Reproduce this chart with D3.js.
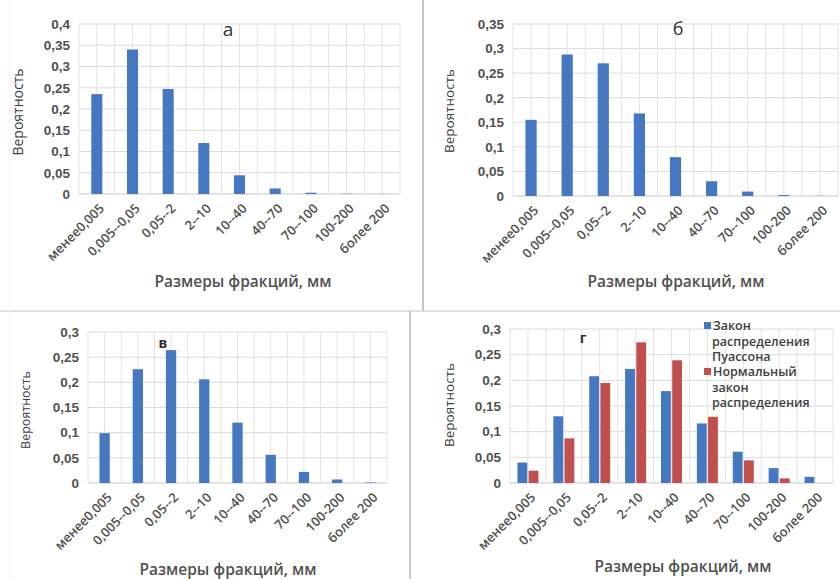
<!DOCTYPE html>
<html>
<head>
<meta charset="utf-8">
<title>Вероятность фракций</title>
<script src="https://d3js.org/d3.v7.min.js"></script>
<style>
    body { margin: 0; background: #fff; }
    svg { font-family: "Open Sans", "Noto Sans", sans-serif; }
    .tick text { fill: #505050; }
</style>
</head>
<body>
<div id="chart"></div>
<script>
// categories (size fractions, mm)
const categories = ["менее0,005", "0,005--0,05", "0,05--2", "2--10", "10--40", "40--70", "70--100", "100-200", "более 200"];

// panel а
const valuesA = [0.235, 0.340, 0.247, 0.120, 0.044, 0.013, 0.003, 0.0006, 0.0003];
const ticksA = [0, 0.05, 0.1, 0.15, 0.2, 0.25, 0.3, 0.35, 0.4];
// panel б
const valuesB = [0.155, 0.288, 0.270, 0.168, 0.079, 0.030, 0.009, 0.002, 0.0004];
const ticksB = [0, 0.05, 0.1, 0.15, 0.2, 0.25, 0.3, 0.35];
// panel в
const valuesV = [0.099, 0.226, 0.264, 0.206, 0.120, 0.056, 0.022, 0.007, 0.001];
const ticksV = [0, 0.05, 0.1, 0.15, 0.2, 0.25, 0.3];
// panel г
const poissonG = [0.040, 0.130, 0.208, 0.222, 0.179, 0.116, 0.061, 0.029, 0.012];
const normalG = [0.024, 0.087, 0.195, 0.274, 0.239, 0.129, 0.044, 0.009, 0];
const ticksG = [0, 0.05, 0.1, 0.15, 0.2, 0.25, 0.3];
const legendG = [["Закон", "распределения", "Пуассона"], ["Нормальный", "закон", "распределения"]];

const blue = "#4677c1";
const red = "#c0504d";

const svg = d3.select("#chart").append("svg")
    .attr("width", 840)
    .attr("height", 579);

// collage separators
svg.append("line").attr("x1", 423).attr("x2", 423).attr("y1", 0).attr("y2", 311)
    .attr("stroke", "#c4c4c4").attr("stroke-width", 2);
svg.append("line").attr("x1", 0).attr("x2", 840).attr("y1", 311).attr("y2", 311)
    .attr("stroke", "#d6d6d6").attr("stroke-width", 1.5);
svg.append("line").attr("x1", 410).attr("x2", 410).attr("y1", 311).attr("y2", 579)
    .attr("stroke", "#b8b8b8").attr("stroke-width", 1.5);
svg.append("line").attr("x1", 10).attr("x2", 10).attr("y1", 0).attr("y2", 579)
    .attr("stroke", "#f0f0f0").attr("stroke-width", 1);

const panels = [
    { letter: "а", series: [valuesA], ticks: ticksA, left: 79, right: 400, top: 24, bottom: 194,
      letterX: 228, letterY: 36, letterSize: 19, letterWeight: 400, yLabelX: 18, yLabelY: 112, yLabelSize: 14,
      xTitleX: 243, xTitleY: 287 },
    { letter: "б", series: [valuesB], ticks: ticksB, left: 513, right: 838, top: 24, bottom: 196,
      letterX: 678, letterY: 35, letterSize: 18, letterWeight: 400, yLabelX: 449, yLabelY: 111, yLabelSize: 13.5,
      xTitleX: 676, xTitleY: 287 },
    { letter: "в", series: [valuesV], ticks: ticksV, left: 88, right: 387, top: 332, bottom: 483,
      letterX: 163, letterY: 348, letterSize: 14, letterWeight: 700, yLabelX: 26, yLabelY: 410, yLabelSize: 12.5,
      xTitleX: 228, xTitleY: 575 },
    { letter: "г", series: [poissonG, normalG], ticks: ticksG, left: 510, right: 833, top: 329, bottom: 483,
      letterX: 583, letterY: 343, letterSize: 14, letterWeight: 700, yLabelX: 449, yLabelY: 405, yLabelSize: 13.5,
      xTitleX: 683, xTitleY: 572 }
];

function drawPanel(p) {
    const g = svg.append("g");

    const x = d3.scaleBand().domain(categories).range([p.left, p.right]);
    const bw = x.bandwidth();
    const y = d3.scaleLinear().domain([0, d3.max(p.ticks)]).range([p.bottom, p.top]);

    // horizontal gridlines
    g.selectAll(".hgrid").data(p.ticks).enter().append("line")
        .attr("x1", p.left).attr("x2", p.right)
        .attr("y1", d => y(d)).attr("y2", d => y(d))
        .attr("stroke", d => d === 0 ? "#c8c8c8" : "#dadada")
        .attr("stroke-width", 1);

    // vertical gridlines at category edges and centres
    const vlines = [];
    categories.forEach(c => { vlines.push(x(c)); vlines.push(x(c) + bw / 2); });
    vlines.push(p.right);
    g.selectAll(".vgrid").data(vlines).enter().append("line")
        .attr("x1", d => d).attr("x2", d => d)
        .attr("y1", p.top).attr("y2", p.bottom)
        .attr("stroke", "#e2e2e2").attr("stroke-width", 1);

    // bars
    if (p.series.length === 1) {
        const w = bw * 0.31;
        g.selectAll(".bar").data(p.series[0]).enter().append("rect")
            .attr("x", (d, i) => x(categories[i]) + bw / 2 - w / 2)
            .attr("y", d => y(d))
            .attr("width", w)
            .attr("height", d => p.bottom - y(d))
            .attr("fill", blue);
    } else {
        const x1 = d3.scaleBand().domain([0, 1]).range([bw / 2 - 10.5, bw / 2 + 10.5]).paddingInner(0.12);
        const colors = [blue, red];
        p.series.forEach((vals, s) => {
            g.selectAll(".bar" + s).data(vals).enter().append("rect")
                .attr("x", (d, i) => x(categories[i]) + x1(s))
                .attr("y", d => y(d))
                .attr("width", x1.bandwidth())
                .attr("height", d => p.bottom - y(d))
                .attr("fill", colors[s]);
        });
    }

    // y axis
    const yAxis = g.append("g")
        .attr("transform", "translate(" + p.left + ",0)")
        .call(d3.axisLeft(y).tickValues(p.ticks).tickSize(0).tickPadding(9)
            .tickFormat(d => String(d).replace(".", ",")));
    yAxis.select(".domain").remove();
    yAxis.selectAll("text").style("font-size", "13.5px").style("font-weight", "600");

    // x tick labels, rotated
    g.selectAll(".xlab").data(categories).enter().append("text")
        .attr("transform", d => "translate(" + (x(d) + bw / 2 + 5) + "," + (p.bottom + 12) + ") rotate(-45)")
        .attr("text-anchor", "end")
        .attr("dy", "0.35em")
        .style("font-size", "13px")
        .style("font-weight", "600")
        .attr("fill", "#505050")
        .text(d => d);

    // axis titles
    g.append("text")
        .attr("transform", "translate(" + p.yLabelX + "," + p.yLabelY + ") rotate(-90)")
        .attr("text-anchor", "middle")
        .attr("dy", "0.35em")
        .style("font-size", p.yLabelSize + "px")
        .attr("fill", "#404040")
        .text("Вероятность");

    g.append("text")
        .attr("x", p.xTitleX).attr("y", p.xTitleY)
        .attr("text-anchor", "middle")
        .style("font-size", "15.5px")
        .style("font-weight", "600")
        .attr("fill", "#505050")
        .text("Размеры фракций, мм");

    // panel letter
    g.append("text")
        .attr("x", p.letterX).attr("y", p.letterY)
        .attr("text-anchor", "middle")
        .style("font-size", p.letterSize + "px")
        .style("font-weight", p.letterWeight)
        .attr("fill", "#303030")
        .text(p.letter);
}

panels.forEach(drawPanel);

// legend for panel г
const legend = svg.append("g").attr("transform", "translate(704,0)");
const legendColors = [blue, red];
const legendRows = [[326, 342, 357], [372, 388, 403]];
legendG.forEach((lines, s) => {
    legend.append("rect")
        .attr("x", 0).attr("y", legendRows[s][0] - 4)
        .attr("width", 7).attr("height", 7)
        .attr("fill", legendColors[s]);
    lines.forEach((t, k) => {
        legend.append("text")
            .attr("x", k === 0 ? 9 : 8).attr("y", legendRows[s][k])
            .attr("dy", "0.35em")
            .style("font-size", "12.5px")
            .style("font-weight", "600")
            .attr("fill", "#404040")
            .text(t);
    });
});
</script>
</body>
</html>
